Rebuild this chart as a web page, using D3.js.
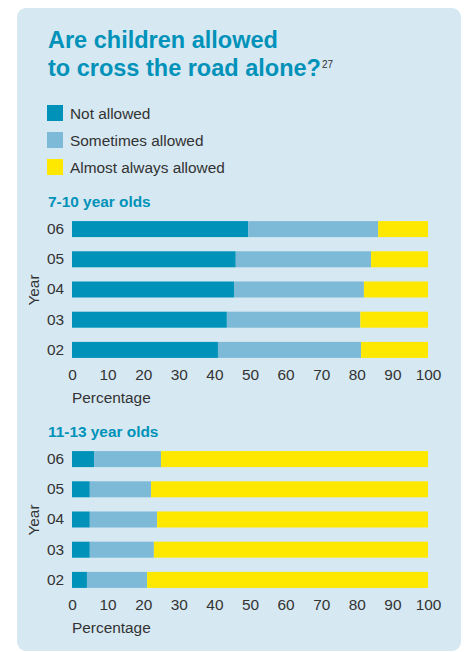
<!DOCTYPE html>
<html>
<head>
<meta charset="utf-8">
<script src="https://cdn.jsdelivr.net/npm/d3@7"></script>
<style>
html,body{margin:0;padding:0;background:#fff;}
svg{display:block;font-family:"Liberation Sans",Arial,sans-serif;}
</style>
</head>
<body>
<svg id="chart" width="465" height="652"></svg>
<script>
const years = ["06","05","04","03","02"];
const seriesNames = ["Not allowed","Sometimes allowed","Almost always allowed"];
const seriesColors = ["#0092b9","#7dbad8","#ffe800"];
// 7-10 year olds
const young_notAllowed = [49.5,46,45.5,43.5,41];
const young_sometimes = [36.5,38,36.5,37.5,40.2];
const young_almostAlways = [14,16,18,19,18.8];
// 11-13 year olds
const old_notAllowed = [6.2,5,5,5,4.2];
const old_sometimes = [18.8,17.2,18.9,18,16.9];
const old_almostAlways = [75,77.8,76.1,77,78.9];
const xTicks = [0,10,20,30,40,50,60,70,80,90,100];

const svg = d3.select("#chart");
const textColor = "#333333";
const titleColor = "#0092b9";

svg.append("rect").attr("x",17).attr("y",8).attr("width",444).attr("height",643)
  .attr("rx",9).attr("fill","#d6e8f2");

const title = svg.append("text").attr("fill",titleColor).attr("font-weight","bold")
  .attr("font-size",23.5).attr("x",48);
title.append("tspan").attr("x",48).attr("y",48).text("Are children allowed");
title.append("tspan").attr("x",48).attr("y",76).text("to cross the road alone?");
svg.append("text").attr("x",322).attr("y",68).attr("font-size",10).attr("fill",textColor).text("27");

// legend
const lg = svg.append("g");
seriesNames.forEach((n,i)=>{
  const y = 105 + i*27;
  lg.append("rect").attr("x",47).attr("y",y).attr("width",16).attr("height",16).attr("fill",seriesColors[i]);
  lg.append("text").attr("x",70).attr("y",y+13.5).attr("font-size",15.4).attr("fill",textColor).text(n);
});

const x = d3.scaleLinear().domain([0,100]).range([72,428]);

function panel(subtitle, subY, top, a, b, c){
  svg.append("text").attr("x",48).attr("y",subY).attr("font-size",15.4).attr("font-weight","bold")
    .attr("fill",titleColor).text(subtitle);
  const y = d3.scaleBand().domain(years).range([top, top+151]).paddingInner(0.47).paddingOuter(0.235);
  const data = years.map((yr,i)=>({year:yr, v:[a[i],b[i],c[i]]}));
  const stack = d3.stack().keys([0,1,2]).value((d,k)=>d.v[k]);
  const layers = stack(data);
  const g = svg.append("g");
  layers.forEach((layer,k)=>{
    g.selectAll(null).data(layer).enter().append("rect")
      .attr("x",d=>x(d[0])).attr("width",d=>x(d[1])-x(d[0]))
      .attr("y",d=>y(d.data.year)).attr("height",y.bandwidth())
      .attr("fill",seriesColors[k]);
  });
  const yAxis = d3.axisLeft(y).tickSize(0).tickPadding(8);
  const ya = svg.append("g").attr("transform","translate(72,0)").call(yAxis);
  ya.select(".domain").remove();
  ya.selectAll("text").attr("font-size",15.4).attr("fill",textColor).attr("font-family","Liberation Sans, Arial, sans-serif");
  const xAxis = d3.axisBottom(x).tickValues(xTicks).tickSize(0).tickPadding(10).tickFormat(d3.format("d"));
  const xa = svg.append("g").attr("transform",`translate(0,${top+145})`).call(xAxis);
  xa.select(".domain").remove();
  xa.selectAll("text").attr("font-size",15.4).attr("fill",textColor).attr("font-family","Liberation Sans, Arial, sans-serif");
  svg.append("text").attr("x",72).attr("y",top+189).attr("font-size",15.4).attr("fill",textColor).text("Percentage");
  svg.append("text").attr("transform",`translate(39,${top+76}) rotate(-90)`).attr("text-anchor","middle")
    .attr("font-size",15.4).attr("fill",textColor).text("Year");
}

panel("7-10 year olds", 207, 214, young_notAllowed, young_sometimes, young_almostAlways);
panel("11-13 year olds", 437, 444, old_notAllowed, old_sometimes, old_almostAlways);
</script>
</body>
</html>
